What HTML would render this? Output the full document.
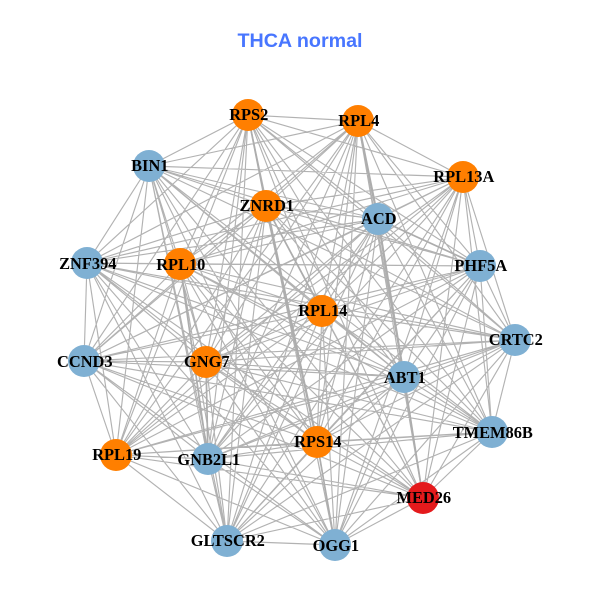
<!DOCTYPE html>
<html><head><meta charset="utf-8"><title>THCA normal</title>
<style>
html,body{margin:0;padding:0;background:#fff}
svg{display:block}
.l{font:bold 16.4px "Liberation Serif",serif;fill:#000;text-anchor:middle}
</style></head><body>
<svg width="600" height="600" viewBox="0 0 600 600" xmlns="http://www.w3.org/2000/svg">
<rect width="600" height="600" fill="#fff"/>
<text x="300" y="47" text-anchor="middle" style="font:bold 19.7px 'Liberation Sans',sans-serif;fill:#4876FF">THCA normal</text>
<path fill="none" stroke="#b2b2b2" stroke-width="1.15" d="
M248 115L358 121M248 115L463 177M248 115L149 166M248 115L266 206M248 115L378 219M248 115L480 266M248 115L87 263M248 115L180 264M248 115L322 311M248 115L515 340M248 115L84 361M248 115L206 362M248 115L404 377M248 115L492 432M248 115L116 455M248 115L208 459M248 115L317 442M248 115L423 498M248 115L227 541M248 115L335 545
M358 121L463 177M358 121L149 166M358 121L266 206M358 121L378 219M358 121L480 266M358 121L87 263M358 121L180 264M358 121L322 311M358 121L515 340M358 121L84 361M358 121L206 362M358 121L404 377M358 121L492 432M358 121L116 455M358 121L208 459M358 121L317 442M358 121L423 498M358 121L227 541M358 121L335 545
M463 177L149 166M463 177L266 206M463 177L378 219M463 177L480 266M463 177L87 263M463 177L180 264M463 177L322 311M463 177L515 340M463 177L84 361M463 177L206 362M463 177L404 377M463 177L492 432M463 177L116 455M463 177L208 459M463 177L317 442M463 177L423 498M463 177L227 541M463 177L335 545
M149 166L266 206M149 166L378 219M149 166L480 266M149 166L87 263M149 166L180 264M149 166L322 311M149 166L515 340M149 166L84 361M149 166L206 362M149 166L404 377M149 166L492 432M149 166L116 455M149 166L208 459M149 166L317 442M149 166L423 498M149 166L227 541M149 166L335 545
M266 206L378 219M266 206L480 266M266 206L87 263M266 206L180 264M266 206L322 311M266 206L515 340M266 206L84 361M266 206L206 362M266 206L404 377M266 206L492 432M266 206L116 455M266 206L208 459M266 206L317 442M266 206L423 498M266 206L227 541M266 206L335 545
M378 219L480 266M378 219L87 263M378 219L180 264M378 219L322 311M378 219L515 340M378 219L84 361M378 219L206 362M378 219L404 377M378 219L492 432M378 219L116 455M378 219L208 459M378 219L317 442M378 219L423 498M378 219L227 541M378 219L335 545
M480 266L87 263M480 266L180 264M480 266L322 311M480 266L515 340M480 266L84 361M480 266L206 362M480 266L404 377M480 266L492 432M480 266L116 455M480 266L208 459M480 266L317 442M480 266L423 498M480 266L227 541M480 266L335 545
M87 263L180 264M87 263L322 311M87 263L515 340M87 263L84 361M87 263L206 362M87 263L404 377M87 263L492 432M87 263L116 455M87 263L208 459M87 263L317 442M87 263L423 498M87 263L227 541M87 263L335 545
M180 264L322 311M180 264L515 340M180 264L84 361M180 264L206 362M180 264L404 377M180 264L492 432M180 264L116 455M180 264L208 459M180 264L317 442M180 264L423 498M180 264L227 541M180 264L335 545
M322 311L515 340M322 311L84 361M322 311L206 362M322 311L404 377M322 311L492 432M322 311L116 455M322 311L208 459M322 311L317 442M322 311L423 498M322 311L227 541M322 311L335 545
M515 340L84 361M515 340L206 362M515 340L404 377M515 340L492 432M515 340L116 455M515 340L208 459M515 340L317 442M515 340L423 498M515 340L227 541M515 340L335 545
M84 361L206 362M84 361L404 377M84 361L492 432M84 361L116 455M84 361L208 459M84 361L317 442M84 361L423 498M84 361L227 541M84 361L335 545
M206 362L404 377M206 362L492 432M206 362L116 455M206 362L208 459M206 362L317 442M206 362L423 498M206 362L227 541M206 362L335 545
M404 377L492 432M404 377L116 455M404 377L208 459M404 377L317 442M404 377L423 498M404 377L227 541M404 377L335 545
M492 432L116 455M492 432L208 459M492 432L317 442M492 432L423 498M492 432L227 541M492 432L335 545
M116 455L208 459M116 455L317 442M116 455L423 498M116 455L227 541M116 455L335 545
M208 459L317 442M208 459L423 498M208 459L227 541M208 459L335 545
M317 442L423 498M317 442L227 541M317 442L335 545
M423 498L227 541M423 498L335 545
M227 541L335 545"/>
<path fill="none" stroke="#adadad" stroke-width="2.2" d="M266 206L317 442M378 219L404 377M358 121L378 219"/>
<path fill="none" stroke="#adadad" stroke-width="1.7" d="M404 377L423 498M248 115L266 206M206 362L208 459M317 442L335 545M378 219L480 266M266 206L322 311M180 264L208 459"/>
<g fill="#7FB0D3">
<circle cx="149" cy="166" r="16"/><circle cx="378" cy="219" r="16"/><circle cx="480" cy="266" r="16"/><circle cx="87" cy="263" r="16"/><circle cx="515" cy="340" r="16"/><circle cx="84" cy="361" r="16"/><circle cx="404" cy="377" r="16"/><circle cx="492" cy="432" r="16"/><circle cx="208" cy="459" r="16"/><circle cx="227" cy="541" r="16"/><circle cx="335" cy="545" r="16"/>
</g>
<g fill="#FF7F00">
<circle cx="248" cy="115" r="16"/><circle cx="358" cy="121" r="16"/><circle cx="463" cy="177" r="16"/><circle cx="266" cy="206" r="16"/><circle cx="180" cy="264" r="16"/><circle cx="322" cy="311" r="16"/><circle cx="206" cy="362" r="16"/><circle cx="116" cy="455" r="16"/><circle cx="317" cy="442" r="16"/>
</g>
<circle cx="423" cy="498" r="16" fill="#E41A1C"/>
<g transform="translate(0.8,0)">
<text class="l" x="248" y="120">RPS2</text>
<text class="l" x="358" y="126">RPL4</text>
<text class="l" x="463" y="182">RPL13A</text>
<text class="l" x="149" y="171">BIN1</text>
<text class="l" x="266" y="211">ZNRD1</text>
<text class="l" x="378" y="224">ACD</text>
<text class="l" x="480" y="271">PHF5A</text>
<text class="l" x="87" y="269">ZNF394</text>
<text class="l" x="180" y="270">RPL10</text>
<text class="l" x="322" y="316">RPL14</text>
<text class="l" x="515" y="345">CRTC2</text>
<text class="l" x="84" y="367">CCND3</text>
<text class="l" x="206" y="367">GNG7</text>
<text class="l" x="404" y="383">ABT1</text>
<text class="l" x="492" y="438">TMEM86B</text>
<text class="l" x="116" y="460">RPL19</text>
<text class="l" x="208" y="465">GNB2L1</text>
<text class="l" x="317" y="447">RPS14</text>
<text class="l" x="423" y="503">MED26</text>
<text class="l" x="227" y="546">GLTSCR2</text>
<text class="l" x="335" y="551">OGG1</text>
</g>
</svg>
</body></html>
